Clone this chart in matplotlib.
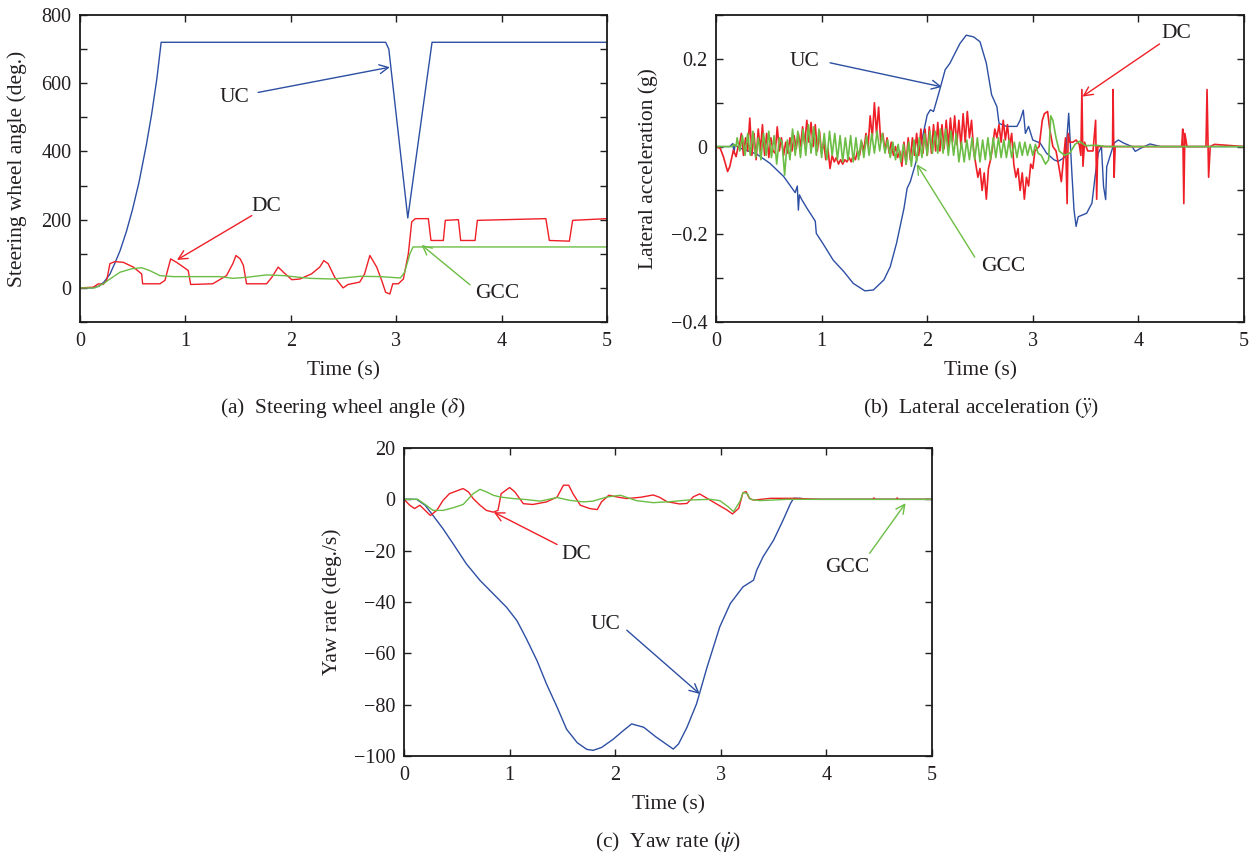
import numpy as np
import matplotlib
matplotlib.use("Agg")
import matplotlib.pyplot as plt

plt.rcParams['font.family'] = ['Liberation Serif', 'DejaVu Serif']
plt.rcParams['mathtext.fontset'] = 'stix'

BLUE = '#2d4fa3'
RED = '#ee1f26'
GREEN = '#6cbd45'
TXT = '#231f20'

# ---------------- (a) Steering wheel angle ----------------
a_uc_t = [0, 0.12, 0.18, 0.23, 0.285, 0.33, 0.38, 0.44, 0.5, 0.56, 0.63, 0.68, 0.73, 0.77,
          2.9, 2.93, 3.11, 3.34, 5.0]
a_uc_v = [0, 0, 5, 18, 41, 72, 109, 165, 232, 310, 420, 510, 615, 720,
          720, 700, 205, 720, 720]

a_dc_t = [0, 0.126, 0.174, 0.22, 0.253, 0.284, 0.33, 0.41, 0.506, 0.585, 0.594, 0.758, 0.806,
          0.86, 0.916, 1.027, 1.05, 1.26, 1.39, 1.45, 1.48, 1.52, 1.55, 1.58, 1.77, 1.82, 1.88,
          1.93, 2.01, 2.085, 2.196, 2.275, 2.313, 2.354, 2.417, 2.496, 2.543, 2.654, 2.70, 2.75,
          2.815, 2.862, 2.90, 2.94, 2.967, 3.02, 3.068, 3.115, 3.147, 3.18, 3.305, 3.33, 3.447,
          3.466, 3.59, 3.612, 3.748, 3.77, 4.42, 4.453, 4.643, 4.674, 5.0]
a_dc_v = [0, 2, 12, 10, 22, 71, 77, 75, 61, 41, 12, 12, 22,
          85, 75, 51, 10, 12, 36, 71, 95, 85, 66, 12, 12, 31, 61,
          46, 24, 26, 41, 61, 80, 71, 31, 0, 10, 17, 41, 95,
          61, 22, -13, -18, 12, 12, 26, 100, 193, 203, 203, 139, 139,
          198, 200, 139, 139, 198, 203, 139, 137, 198, 203]

a_gcc_t = [0, 0.14, 0.22, 0.284, 0.38, 0.49, 0.585, 0.66, 0.758, 0.885, 1.14, 1.33, 1.45, 1.58,
           1.77, 1.93, 2.18, 2.40, 2.66, 2.85, 3.04, 3.08, 3.13, 3.16, 5.0]
a_gcc_v = [0, 0, 12, 26, 46, 56, 59, 51, 36, 33, 33, 33, 28, 31,
           38, 36, 28, 26, 34, 33, 29, 46, 100, 120, 120]

# ---------------- (b) Lateral acceleration ----------------
b_uc_t = [0, 0.13, 0.16, 0.17, 0.18, 0.23, 0.385, 0.51, 0.64, 0.75, 0.77, 0.78, 0.79, 0.81, 0.86,
          0.94, 0.95, 1.02, 1.11, 1.21, 1.30, 1.41, 1.49, 1.59, 1.65, 1.71, 1.78, 1.81, 1.84,
          1.90, 1.95, 2.0, 2.03, 2.06, 2.11, 2.17, 2.215, 2.31, 2.37, 2.44, 2.5, 2.56, 2.61,
          2.66, 2.68, 2.75, 2.85, 2.88, 2.91, 2.93, 2.96, 3.0, 3.07, 3.13, 3.2, 3.24, 3.31,
          3.34, 3.35, 3.37, 3.39, 3.41, 3.43, 3.51, 3.56, 3.59, 3.62, 3.65, 3.67, 3.69, 3.70,
          3.77, 3.81, 3.86, 3.94, 3.97, 4.02, 4.11, 4.21, 5.0]
b_uc_v = [0, 0, 0.007, -0.015, 0.004, -0.004, -0.017, -0.038, -0.068, -0.105, -0.09, -0.145,
          -0.11, -0.12, -0.14, -0.17, -0.198, -0.224, -0.259, -0.285, -0.312, -0.329, -0.327,
          -0.304, -0.274, -0.22, -0.141, -0.095, -0.08, -0.03, 0.015, 0.072, 0.084, 0.08,
          0.122, 0.175, 0.19, 0.235, 0.254, 0.25, 0.239, 0.19, 0.118, 0.091, 0.053, 0.046,
          0.046, 0.06, 0.083, 0.03, 0.046, 0.015, 0.008, -0.015, -0.03, -0.034, -0.023,
          0.076, 0.03, -0.06, -0.144, -0.182, -0.16, -0.152, -0.129, -0.068, -0.015, 0.0,
          -0.091, -0.121, -0.046, 0.008, 0.015, 0.008, 0.0, -0.011, -0.004, 0.006, 0.0, 0.0]

b_dc_head_t = [0, 0.04, 0.07, 0.11, 0.13, 0.165, 0.19, 0.21]
b_dc_head_v = [0, -0.004, -0.023, -0.057, -0.046, -0.008, -0.023, 0.0]
b_dc_noise_start = 0.22
b_dc_noise_step = 0.02
b_dc_noise_v = [0.00, 0.03, -0.02, 0.02, -0.01, 0.065, -0.02, 0.03, -0.03, 0.04, -0.01, 0.05,
                -0.02, 0.03, -0.025, 0.02, -0.01,
                -0.015, 0.045, -0.01, 0.02, -0.02, 0.01, -0.015, 0.02, -0.01, 0.025, -0.005,
                0.03, 0.0, 0.045, 0.005, 0.06,
                0.01, 0.055, 0.0, 0.05, -0.01, 0.035, -0.015, 0.01, -0.03, -0.005, -0.05,
                -0.02, -0.035, -0.025, -0.04, -0.03, -0.04, -0.03, -0.035, -0.025,
                -0.035, -0.02, -0.03, -0.01, -0.02, 0.01, -0.01, 0.03, 0.0, 0.07, 0.02, 0.1,
                0.03, 0.09, 0.01, 0.03, -0.01, 0.02, -0.015, 0.01,
                -0.02, 0.0, -0.025, -0.01, -0.045, 0.01, -0.04, 0.02, -0.03, 0.02, -0.02,
                0.03, -0.02, 0.04, -0.015, 0.04, -0.02, 0.045, -0.015, 0.05,
                -0.01, 0.055, -0.01, 0.05, -0.005, 0.06, 0.0, 0.065, 0.01, 0.07, 0.005, 0.06,
                0.0, 0.075, 0.01, 0.08, 0.02, 0.06, -0.01, -0.04,
                -0.07, -0.05, -0.1, -0.06, -0.12, -0.05, -0.03, 0.0, 0.04, 0.02, 0.05, 0.01,
                0.06, 0.015, 0.05, 0.0, 0.03, -0.04, -0.07, -0.05,
                -0.1, -0.06, -0.12, -0.07, -0.09, -0.04, -0.05, -0.01]
b_dc_tail_t = [3.06, 3.09, 3.11, 3.14, 3.16, 3.19, 3.22, 3.25, 3.27, 3.29, 3.31, 3.325, 3.335,
               3.35, 3.38, 3.41, 3.44, 3.455, 3.465, 3.475, 3.49, 3.52, 3.57, 3.595, 3.605,
               3.615, 3.7, 3.755, 3.76, 3.77, 3.78, 4.41, 4.42, 4.43, 4.44, 4.46, 4.64, 4.65,
               4.665, 4.68, 4.72, 5.0]
b_dc_tail_v = [0.0, 0.06, 0.075, 0.08, 0.04, 0.0, -0.01, -0.05, -0.08, -0.03, 0.02, -0.13, 0.03,
               0.01, 0.01, 0.015, 0.005, -0.02, 0.13, -0.045, 0.01, -0.01, -0.01, 0.06, -0.12,
               0.0, 0.0, 0.0, 0.13, -0.07, 0.0, 0.0, 0.04, -0.13, 0.03, 0.0, 0.0, 0.13,
               -0.07, 0.0, 0.005, 0.0]

b_gcc_head_t = [0, 0.15, 0.17, 0.19]
b_gcc_head_v = [0, 0, 0.005, 0.0]
b_gcc_noise_start = 0.2
b_gcc_noise_step = 0.025
b_gcc_noise_v = [0.02, -0.01, 0.025, -0.02, 0.03, -0.02, 0.035, -0.025, 0.02, -0.03, 0.03, -0.02,
                 0.035, -0.025, 0.025, -0.04, 0.02, 0.01, -0.065, 0.015, -0.03, 0.04, -0.02,
                 0.035, -0.025, 0.04, -0.02, 0.05, -0.015, 0.045, -0.02, 0.04, -0.025, 0.03,
                 -0.03, 0.035, -0.02, 0.03, -0.03, 0.025, -0.035, 0.02, -0.03, 0.025, -0.035,
                 0.02, -0.03, 0.015, -0.025, 0.025, -0.02, 0.03, -0.015, 0.035, -0.01, 0.03,
                 -0.015, 0.015, -0.025, 0.01, -0.03, 0.005, -0.035, 0.005, -0.04, 0.01, -0.045,
                 0.015, -0.035, 0.02, -0.025, 0.03, -0.02, 0.035, -0.015, 0.035, -0.015, 0.04,
                 -0.015, 0.04, -0.02, 0.035, -0.02, 0.03, -0.035, 0.01, -0.035, 0.015, -0.03,
                 0.02, -0.03, 0.02, -0.035, 0.015, -0.03, 0.02, -0.03, 0.02, -0.025, 0.02,
                 -0.025, 0.015, -0.025, 0.015, -0.025, 0.01, -0.025, 0.01, -0.02, 0.01, -0.02,
                 0.005, -0.02, 0.005, -0.015]
b_gcc_tail_t = [3.08, 3.12, 3.15, 3.17, 3.19, 3.22, 3.25, 3.3, 3.35, 3.4, 3.44, 3.5, 3.6, 3.7, 5.0]
b_gcc_tail_v = [-0.02, -0.04, -0.03, 0.07, 0.06, 0.02, -0.01, -0.02, -0.015, 0.005, 0.012,
                0.002, 0.003, 0.0, 0.0]

# ---------------- (c) Yaw rate ----------------
c_uc_t = [0, 0.12, 0.2, 0.275, 0.37, 0.465, 0.59, 0.72, 0.845, 0.97, 1.07, 1.16, 1.26, 1.35,
          1.45, 1.54, 1.64, 1.73, 1.79, 1.87, 1.98, 2.08, 2.156, 2.27, 2.39, 2.55, 2.6, 2.68,
          2.77, 2.87, 2.99, 3.09, 3.21, 3.31, 3.34, 3.40, 3.5, 3.59, 3.66, 3.69, 3.75, 3.82, 5.0]
c_uc_v = [0, 0, -2.3, -6.3, -11.5, -17.3, -25.1, -31.6, -36.8, -42, -47.3, -54.4, -62.9, -72,
          -81, -89.6, -94.8, -97.4, -97.8, -96.7, -93.5, -90, -87.5, -88.8, -92.7, -97.3,
          -95.3, -88.8, -79.7, -65.4, -49.7, -40.6, -34.1, -31.5, -27.6, -22.4, -15.9, -8.1,
          -1.6, 0.4, 0.4, 0, 0]

c_dc_t = [0, 0.054, 0.1, 0.15, 0.2, 0.25, 0.31, 0.37, 0.43, 0.5, 0.56, 0.61, 0.655, 0.72, 0.78,
          0.845, 0.89, 0.92, 1.0, 1.05, 1.13, 1.22, 1.35, 1.45, 1.51, 1.56, 1.6, 1.67, 1.76,
          1.83, 1.87, 1.94, 2.02, 2.11, 2.24, 2.36, 2.42, 2.49, 2.61, 2.68, 2.74, 2.8, 2.87,
          2.96, 3.06, 3.11, 3.17, 3.21, 3.24, 3.27, 3.31, 3.47, 3.69, 3.94, 4.44, 4.45, 4.46,
          4.66, 4.67, 4.68, 5.0]
c_dc_v = [0, -2.3, -3.6, -2.3, -4.3, -6.3, -4.3, -0.4, 2.2, 3.3, 4.2, 2.9, 0.3, -2.3, -4.3,
          -5, -4.3, 2.2, 4.6, 2.9, -1.7, -2, -1, 0.9, 5.5, 5.5, 2.2, -2.3, -3.6,
          -4, -1, 1.6, 0.9, 0.3, 0.8, 1.7, 0.8, -0.9, -1.8, -1.6, 1, 2.1, 0.4,
          -1.8, -4.2, -5.7, -3.5, 2.6, 3, 0.4, -0.3, 0.4, 0.4, 0, 0, 0.6, 0,
          0, 0.6, 0, 0]

c_gcc_t = [0, 0.13, 0.21, 0.275, 0.37, 0.465, 0.56, 0.655, 0.72, 0.78, 0.845, 0.91, 1.035, 1.16,
           1.29, 1.45, 1.57, 1.7, 1.79, 1.92, 2.05, 2.2, 2.36, 2.52, 2.68, 2.9, 2.99, 3.07,
           3.12, 3.18, 3.21, 3.25, 3.28, 3.37, 3.63, 5.0]
c_gcc_v = [0, 0, -2.3, -4.3, -4.3, -3.3, -2, 2.2, 3.9, 2.9, 1.6, 0.9, 0.3, -0.1,
           -0.7, 0.7, -0.4, -1, -0.7, 0.9, 1.6, -0.5, -1.3, -0.9, -0.3, 0, -0.5, -2.9,
           -4.8, -0.9, 2.6, 2.3, 0, -0.5, 0, 0]

# assemble (b) series
b_dc_t = (list(b_dc_head_t)
          + list(b_dc_noise_start + b_dc_noise_step * np.arange(len(b_dc_noise_v)))
          + list(b_dc_tail_t))
b_dc_v = list(b_dc_head_v) + list(b_dc_noise_v) + list(b_dc_tail_v)
b_gcc_t = (list(b_gcc_head_t)
           + list(b_gcc_noise_start + b_gcc_noise_step * np.arange(len(b_gcc_noise_v)))
           + list(b_gcc_tail_t))
b_gcc_v = list(b_gcc_head_v) + list(b_gcc_noise_v) + list(b_gcc_tail_v)

W, H = 1254, 857
fig = plt.figure(figsize=(W / 100, H / 100), dpi=100)


def add_ax(x0, y0, x1, y1):
    return fig.add_axes([x0 / W, 1 - y1 / H, (x1 - x0) / W, (y1 - y0) / H])


ax_a = add_ax(80, 15, 607, 322)
ax_b = add_ax(716, 15, 1244, 322)
ax_c = add_ax(404, 448, 932, 756)

LW = 1.0
ax_a.plot(a_uc_t, a_uc_v, color=BLUE, lw=LW)
ax_a.plot(a_dc_t, a_dc_v, color=RED, lw=LW)
ax_a.plot(a_gcc_t, a_gcc_v, color=GREEN, lw=LW)

ax_b.plot(b_uc_t, b_uc_v, color=BLUE, lw=LW)
ax_b.plot(b_dc_t, b_dc_v, color=RED, lw=1.2)
ax_b.plot(b_gcc_t, b_gcc_v, color=GREEN, lw=1.2)

ax_c.plot(c_uc_t, c_uc_v, color=BLUE, lw=LW)
ax_c.plot(c_dc_t, c_dc_v, color=RED, lw=LW)
ax_c.plot(c_gcc_t, c_gcc_v, color=GREEN, lw=LW)

FS_TICK = 14.5
FS = 15.5


def style(ax, ylim, yticks, ylabels, ylabel, ylab_x):
    ax.set_xlim(0, 5)
    ax.set_ylim(*ylim)
    ax.set_xticks([0, 1, 2, 3, 4, 5])
    ax.set_xticklabels(['0', '1', '2', '3', '4', '5'])
    ax.set_yticks(yticks)
    ax.set_yticklabels(ylabels)
    ax.tick_params(direction='in', top=True, right=True, length=5, width=1.0,
                   labelsize=FS_TICK, colors=TXT)
    ax.tick_params(axis='x', pad=7)
    ax.tick_params(axis='y', pad=6)
    for s in ax.spines.values():
        s.set_linewidth(1.3)
        s.set_color('#1a1a1a')
    ax.text(0.5, -0.16, 'Time (s)', transform=ax.transAxes, ha='center', va='center',
            fontsize=FS, color=TXT)
    ax.text(ylab_x, 0.5, ylabel, transform=ax.transAxes, ha='center', va='center',
            rotation=90, fontsize=FS, color=TXT)


a_yt = [-100, 0, 100, 200, 300, 400, 500, 600, 700, 800]
style(ax_a, (-100, 800), a_yt, ['' if v % 200 else str(v) for v in a_yt],
      'Steering wheel angle (deg.)', -0.12)
b_yt = [-0.4, -0.3, -0.2, -0.1, 0, 0.1, 0.2, 0.3]
b_yl = ['\u22120.4', '', '\u22120.2', '', '0', '', '0.2', '']
style(ax_b, (-0.4, 0.3), b_yt, b_yl, 'Lateral acceleration (g)', -0.129)
c_yt = [-100, -80, -60, -40, -20, 0, 20]
style(ax_c, (-100, 20), c_yt, [str(v).replace('-', '\u2212') for v in c_yt],
      'Yaw rate (deg./s)', -0.136)


def note(ax, label, txy, tail, head, color):
    ax.text(txy[0], txy[1], label, ha='center', va='center', fontsize=FS, color=TXT)
    ax.annotate('', xy=head, xytext=tail,
                arrowprops=dict(arrowstyle='->', color=color, lw=1.0, mutation_scale=16,
                                shrinkA=0, shrinkB=0))


note(ax_a, 'UC', (1.47, 559), (1.69, 573), (2.94, 647), BLUE)
note(ax_a, 'DC', (1.77, 240), (1.63, 212), (0.92, 82), RED)
note(ax_a, 'GCC', (3.96, -15), (3.70, 9), (3.24, 126), GREEN)

note(ax_b, 'UC', (0.84, 0.195), (1.08, 0.191), (2.14, 0.136), BLUE)
note(ax_b, 'DC', (4.36, 0.257), (4.2, 0.234), (3.47, 0.114), RED)
note(ax_b, 'GCC', (2.72, -0.273), (2.45, -0.252), (1.90, -0.04), GREEN)

note(ax_c, 'DC', (1.63, -21.5), (1.45, -17.6), (0.85, -5), RED)
note(ax_c, 'UC', (1.91, -48.8), (2.11, -51), (2.80, -75.8), BLUE)
note(ax_c, 'GCC', (4.20, -26.6), (4.41, -21), (4.75, -1.5), GREEN)

fig.text(343 / W, 1 - 408 / H, r'(a)  Steering wheel angle ($\delta$)', ha='center',
         va='center', fontsize=FS, color=TXT)
fig.text(981 / W, 1 - 408 / H, r'(b)  Lateral acceleration ($\ddot{y}$)', ha='center',
         va='center', fontsize=FS, color=TXT)
fig.text(668 / W, 1 - 842 / H, r'(c)  Yaw rate ($\dot{\psi}$)', ha='center',
         va='center', fontsize=FS, color=TXT)

fig.savefig('out.png', dpi=100)
